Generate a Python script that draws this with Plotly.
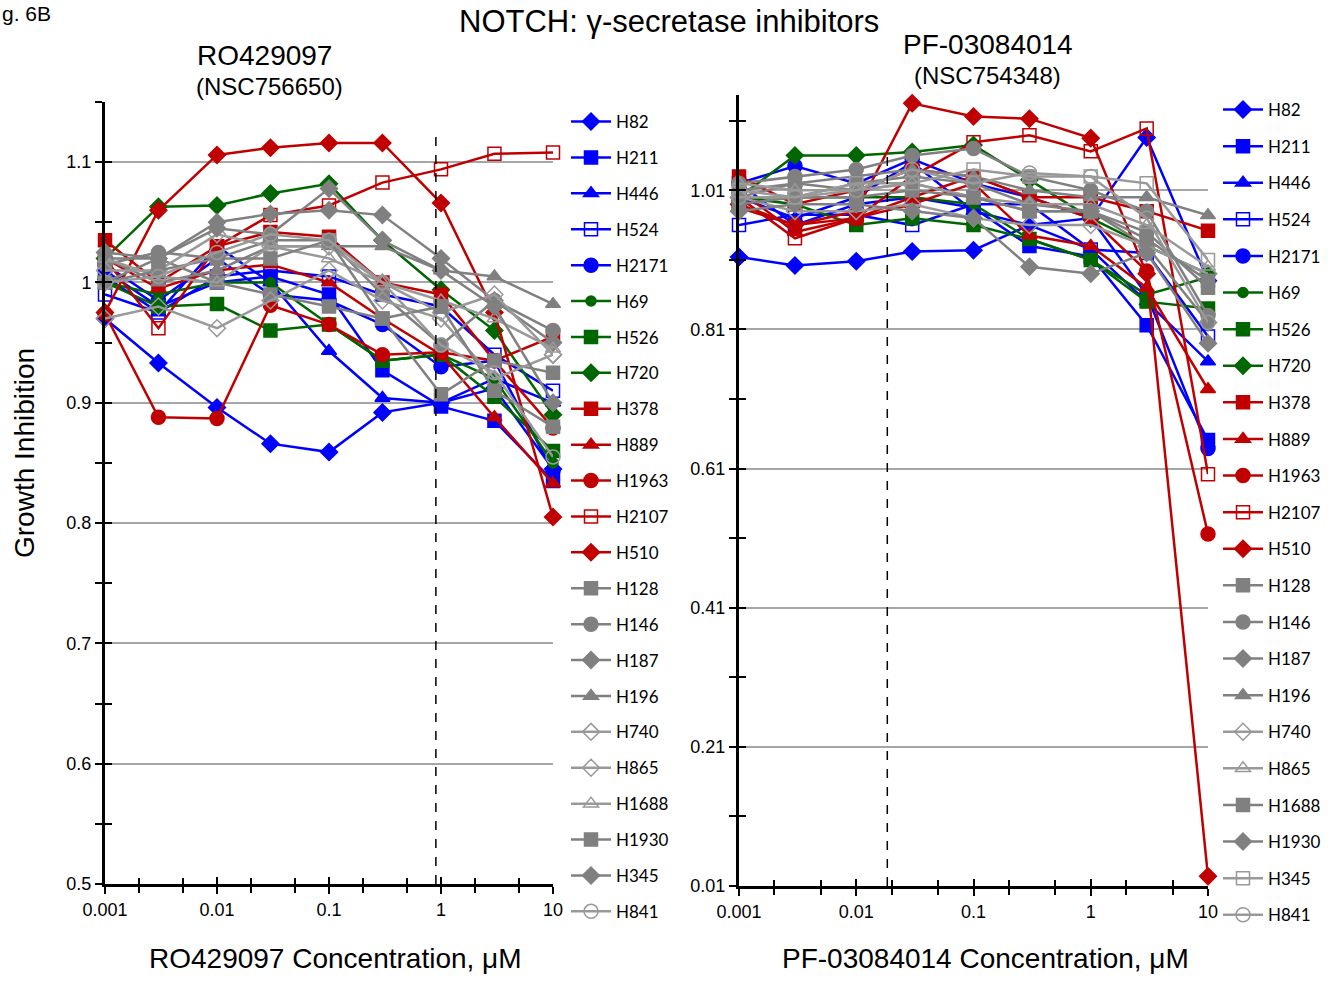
import plotly.graph_objects as go

# Drug concentrations (µM)
conc = [0.001, 0.003, 0.01, 0.03, 0.1, 0.3, 1, 3, 10]

cell_lines = ["H82", "H211", "H446", "H524", "H2171", "H69", "H526", "H720",
              "H378", "H889", "H1963", "H2107", "H510", "H128", "H146", "H187",
              "H196", "H740", "H865", "H1688", "H1930", "H345", "H841"]

# ---- RO429097 (NSC756650) growth inhibition ----
ro_h82 = [0.970, 0.933, 0.896, 0.866, 0.859, 0.892, 0.900, 0.912, 0.845]
ro_h211 = [1.010, 0.980, 1.000, 1.005, 0.990, 0.927, 0.897, 0.885, 0.835]
ro_h446 = [1.005, 0.975, 1.030, 1.000, 0.943, 0.904, 0.900, 0.920, 0.900]
ro_h524 = [0.990, 0.975, 1.005, 1.010, 1.005, 0.990, 0.980, 0.940, 0.910]
ro_h2171 = [1.015, 0.985, 1.020, 0.990, 0.985, 0.965, 0.930, 0.935, 0.843]
ro_h69 = [1.000, 0.990, 1.000, 1.000, 0.965, 0.935, 0.940, 0.920, 0.850]
ro_h526 = [1.000, 0.980, 0.982, 0.960, 0.965, 0.935, 0.940, 0.905, 0.860]
ro_h720 = [1.020, 1.063, 1.064, 1.074, 1.082, 1.035, 0.994, 0.960, 0.890]
ro_h378 = [1.035, 1.000, 1.030, 1.042, 1.038, 1.000, 0.990, 0.935, 0.955]
ro_h889 = [1.020, 0.995, 1.010, 1.015, 1.000, 0.970, 0.940, 0.888, 0.833]
ro_h1963 = [0.974, 0.888, 0.887, 0.981, 0.965, 0.940, 0.942, 0.935, 0.879]
ro_h2107 = [1.020, 0.962, 1.030, 1.056, 1.064, 1.083, 1.094, 1.107, 1.108]
ro_h510 = [0.975, 1.060, 1.106, 1.112, 1.116, 1.116, 1.066, 0.975, 0.805]
ro_h128 = [1.020, 1.020, 1.000, 0.990, 0.980, 0.970, 0.907, 0.935, 0.925]
ro_h146 = [1.015, 1.025, 1.020, 1.035, 1.035, 0.990, 0.948, 0.985, 0.960]
ro_h187 = [1.000, 1.020, 1.050, 1.057, 1.060, 1.056, 1.020, 0.985, 0.950]
ro_h196 = [1.020, 1.000, 1.010, 1.030, 1.030, 1.030, 1.010, 1.005, 0.982]
ro_h740 = [0.970, 0.980, 0.962, 0.985, 1.010, 0.985, 0.970, 0.920, 0.940]
ro_h865 = [1.010, 1.010, 1.040, 1.030, 1.030, 1.000, 0.975, 0.990, 0.940]
ro_h1688 = [1.020, 1.005, 1.000, 1.030, 1.020, 1.000, 0.985, 0.970, 0.945]
ro_h1930 = [1.000, 1.010, 1.020, 1.020, 1.035, 0.970, 0.980, 0.910, 0.880]
ro_h345 = [1.025, 1.020, 1.045, 1.040, 1.078, 1.035, 1.010, 0.980, 0.900]
ro_h841 = [1.000, 1.005, 1.025, 1.040, 1.035, 1.000, 0.948, 0.925, 0.855]

# ---- PF-03084014 (NSC754348) growth inhibition ----
pf_h82 = [0.914, 0.902, 0.908, 0.922, 0.924, 0.960, 0.970, 1.086, 0.880]
pf_h211 = [1.020, 0.960, 0.990, 1.000, 0.985, 0.930, 0.915, 0.816, 0.651]
pf_h446 = [1.000, 0.970, 1.000, 1.050, 0.980, 0.960, 0.925, 0.850, 0.764]
pf_h524 = [0.960, 0.975, 0.975, 0.960, 0.990, 0.990, 0.925, 0.920, 0.800]
pf_h2171 = [1.020, 1.045, 1.020, 1.055, 1.020, 1.000, 0.970, 0.860, 0.639]
pf_h69 = [1.000, 1.000, 1.000, 1.000, 0.990, 0.940, 0.910, 0.860, 0.885]
pf_h526 = [1.000, 0.990, 0.960, 0.970, 0.960, 0.940, 0.910, 0.850, 0.840]
pf_h720 = [1.000, 1.060, 1.060, 1.065, 1.075, 1.025, 0.970, 0.930, 0.890]
pf_h378 = [1.030, 0.990, 1.010, 1.040, 1.030, 1.000, 1.000, 0.980, 0.952]
pf_h889 = [1.010, 0.950, 0.970, 0.990, 1.020, 0.945, 0.930, 0.870, 0.724]
pf_h1963 = [0.985, 0.960, 0.970, 1.000, 1.030, 1.000, 0.970, 0.894, 0.516]
pf_h2107 = [1.000, 0.941, 0.970, 1.030, 1.079, 1.089, 1.066, 1.099, 0.602]
pf_h510 = [0.990, 0.960, 0.980, 1.135, 1.116, 1.113, 1.085, 0.890, 0.024]
pf_h128 = [1.000, 1.020, 1.010, 1.020, 1.000, 0.980, 0.980, 0.950, 0.870]
pf_h146 = [1.020, 1.030, 1.040, 1.060, 1.070, 1.030, 1.010, 0.980, 0.830]
pf_h187 = [1.000, 1.000, 1.020, 1.030, 1.020, 0.990, 0.980, 0.930, 0.820]
pf_h196 = [1.010, 1.020, 1.030, 1.040, 1.030, 1.010, 1.000, 1.000, 0.974]
pf_h740 = [1.000, 0.980, 0.980, 0.990, 0.970, 0.960, 0.960, 0.930, 0.890]
pf_h865 = [1.020, 1.010, 1.010, 1.020, 1.000, 0.990, 0.990, 0.960, 0.900]
pf_h1688 = [0.990, 1.000, 1.000, 1.010, 1.000, 0.980, 0.980, 0.940, 0.880]
pf_h1930 = [0.980, 0.990, 0.990, 0.980, 0.970, 0.900, 0.890, 0.920, 0.790]
pf_h345 = [1.010, 1.000, 1.020, 1.020, 1.040, 1.030, 1.030, 1.020, 0.910]
pf_h841 = [1.000, 1.000, 1.010, 1.040, 1.020, 1.035, 1.030, 0.970, 0.820]

ro_series = [ro_h82, ro_h211, ro_h446, ro_h524, ro_h2171, ro_h69, ro_h526, ro_h720,
             ro_h378, ro_h889, ro_h1963, ro_h2107, ro_h510, ro_h128, ro_h146, ro_h187,
             ro_h196, ro_h740, ro_h865, ro_h1688, ro_h1930, ro_h345, ro_h841]
pf_series = [pf_h82, pf_h211, pf_h446, pf_h524, pf_h2171, pf_h69, pf_h526, pf_h720,
             pf_h378, pf_h889, pf_h1963, pf_h2107, pf_h510, pf_h128, pf_h146, pf_h187,
             pf_h196, pf_h740, pf_h865, pf_h1688, pf_h1930, pf_h345, pf_h841]

# reference concentrations marked by dashed lines
ro_ref_conc = 0.9
pf_ref_conc = 0.0184

BLUE, GREEN, RED, GRAY, LGRAY = "#0000FF", "#006600", "#C00000", "#808080", "#999999"

colors = [BLUE] * 5 + [GREEN] * 3 + [RED] * 5 + [GRAY] * 10

ro_symbols = ["diamond", "square", "triangle-up", "square-open", "circle",
              "circle", "square", "diamond",
              "square", "triangle-up", "circle", "square-open", "diamond",
              "square", "circle", "diamond", "triangle-up", "diamond-open",
              "diamond-open", "triangle-up-open", "square", "diamond", "circle-open"]
pf_symbols = ro_symbols[:18] + ["triangle-up-open", "square", "diamond",
                                "square-open", "circle-open"]

sizes = {"diamond": 13, "square": 13, "triangle-up": 13, "square-open": 13,
         "circle": 14, "diamond-open": 13, "triangle-up-open": 13, "circle-open": 14}

fig = go.Figure()

FONT = "Liberation Sans, Arial, sans-serif"
LEGEND_FONT = "Lato, Carlito, sans-serif"


def add_panel(series, symbols, xa, ya, legend_name):
    for i, (name, vals) in enumerate(zip(cell_lines, series)):
        sym = symbols[i]
        col = colors[i]
        if sym.endswith("-open") and col == GRAY:
            col = LGRAY
        size = sizes[sym]
        if name == "H69":
            size = 10
        fig.add_trace(go.Scatter(
            x=conc, y=vals, name=name, mode="lines+markers",
            xaxis=xa, yaxis=ya, legend=legend_name,
            legendgroup=legend_name + name,
            line=dict(color=col, width=2.5),
            marker=dict(symbol=sym, size=size, color=col,
                        line=dict(color=col, width=1.5)),
            cliponaxis=False,
        ))


add_panel(ro_series, ro_symbols, "x", "y", "legend")
add_panel(pf_series, pf_symbols, "x2", "y2", "legend2")

# dashed reference lines
fig.add_trace(go.Scatter(x=[ro_ref_conc, ro_ref_conc], y=[0.5, 1.127], mode="lines",
                         xaxis="x", yaxis="y", showlegend=False, hoverinfo="skip",
                         line=dict(color="black", width=1.5, dash="dash")))
fig.add_trace(go.Scatter(x=[pf_ref_conc, pf_ref_conc], y=[0.01, 1.067], mode="lines",
                         xaxis="x2", yaxis="y2", showlegend=False, hoverinfo="skip",
                         line=dict(color="black", width=1.5, dash="dash")))

W, H = 1338, 981


def px(x):
    return x / W


def py(y):
    return 1 - y / H


left_x = [px(105), px(553)]
left_y = [py(884), py(102)]
right_x = [px(739), px(1208)]
right_y = [py(886), py(95)]

tickfont = dict(family=FONT, size=18, color="black")

xcommon = dict(type="log", range=[-3, 1], showline=True, linecolor="black", linewidth=3,
               ticks="outside", ticklen=7, tickwidth=2, tickcolor="black",
               tickvals=[0.001, 0.01, 0.1, 1, 10],
               ticktext=["0.001", "0.01", "0.1", "1", "10"],
               minor=dict(ticks="outside", ticklen=6, tickwidth=2, tickcolor="black",
                          dtick="D2", showgrid=False),
               showgrid=False, zeroline=False, tickfont=tickfont)
xinside = dict(type="log", range=[-3, 1], showline=False,
               ticks="inside", ticklen=7, tickwidth=2, tickcolor="black",
               tickvals=[0.001, 0.01, 0.1, 1, 10], showticklabels=False,
               minor=dict(ticks="inside", ticklen=6, tickwidth=2, tickcolor="black",
                          dtick="D2", showgrid=False),
               showgrid=False, zeroline=False)

ycommon_left = dict(range=[0.5, 1.15], showline=True, linecolor="black", linewidth=3,
                    tick0=0.5, dtick=0.1, ticks="outside", ticklen=7, tickwidth=2,
                    tickcolor="black",
                    minor=dict(ticks="outside", ticklen=7, tickwidth=2, tickcolor="black",
                               tick0=0.5, dtick=0.05, showgrid=False),
                    showgrid=True, gridcolor="#A6A6A6", gridwidth=1.5,
                    zeroline=False, tickfont=tickfont, tickformat="~g")
ycommon_right = dict(range=[0.01, 1.147], showline=True, linecolor="black", linewidth=3,
                     tick0=0.01, dtick=0.2, ticks="outside", ticklen=7, tickwidth=2,
                     tickcolor="black",
                     minor=dict(ticks="outside", ticklen=7, tickwidth=2, tickcolor="black",
                                tick0=0.01, dtick=0.1, showgrid=False),
                     showgrid=True, gridcolor="#A6A6A6", gridwidth=1.5,
                     zeroline=False, tickfont=tickfont, tickformat=".2f")

fig.update_layout(
    width=W, height=H,
    margin=dict(l=0, r=0, t=0, b=0, autoexpand=False),
    paper_bgcolor="white", plot_bgcolor="white",
    font=dict(family=FONT, color="black"),
    xaxis=dict(domain=left_x, anchor="y", **xcommon),
    yaxis=dict(domain=left_y, anchor="x", **ycommon_left),
    xaxis2=dict(domain=right_x, anchor="y2", **xcommon),
    yaxis2=dict(domain=right_y, anchor="x2", **ycommon_right),
    xaxis3=dict(overlaying="x", anchor="y", **xinside),
    yaxis3=dict(overlaying="y", anchor="x", range=[0.5, 1.15], tick0=0.5, dtick=0.05,
                ticks="inside", ticklen=7, tickwidth=2, tickcolor="black",
                showticklabels=False, showgrid=False, zeroline=False, showline=False),
    xaxis4=dict(overlaying="x2", anchor="y2", **xinside),
    yaxis4=dict(overlaying="y2", anchor="x2", range=[0.01, 1.147], tick0=0.01, dtick=0.1,
                ticks="inside", ticklen=7, tickwidth=2, tickcolor="black",
                showticklabels=False, showgrid=False, zeroline=False, showline=False),
    legend=dict(x=px(566), y=py(104), xanchor="left", yanchor="top",
                font=dict(family=LEGEND_FONT, size=17, color="black"),
                tracegroupgap=10.8, bgcolor="rgba(0,0,0,0)", itemwidth=40),
    legend2=dict(x=px(1218), y=py(92), xanchor="left", yanchor="top",
                 font=dict(family=LEGEND_FONT, size=17, color="black"),
                 tracegroupgap=11.5, bgcolor="rgba(0,0,0,0)", itemwidth=40),
    showlegend=True,
)

# invisible anchors so the overlay tick axes are drawn
fig.add_trace(go.Scatter(x=[0.001], y=[0.5], xaxis="x3", yaxis="y3", mode="markers",
                         marker=dict(opacity=0), showlegend=False, hoverinfo="skip"))
fig.add_trace(go.Scatter(x=[0.001], y=[0.01], xaxis="x4", yaxis="y4", mode="markers",
                         marker=dict(opacity=0), showlegend=False, hoverinfo="skip"))

annotations = [
    dict(text="g. 6B", x=px(0), y=py(0), xanchor="left", yanchor="top",
         font=dict(size=21)),
    dict(text="NOTCH: γ-secretase inhibitors", x=px(669), y=py(22),
         xanchor="center", yanchor="middle", font=dict(size=31)),
    dict(text="RO429097", x=px(264), y=py(55), xanchor="center", yanchor="middle",
         font=dict(size=28)),
    dict(text="(NSC756650)", x=px(269), y=py(87), xanchor="center", yanchor="middle",
         font=dict(size=24)),
    dict(text="PF-03084014", x=px(988), y=py(44), xanchor="center", yanchor="middle",
         font=dict(size=28)),
    dict(text="(NSC754348)", x=px(988), y=py(75), xanchor="center", yanchor="middle",
         font=dict(size=24)),
    dict(text="Growth Inhibition", x=px(24), y=py(453), xanchor="center",
         yanchor="middle", textangle=-90, font=dict(size=28)),
    dict(text="RO429097 Concentration, μM", x=px(335), y=py(958), xanchor="center",
         yanchor="middle", font=dict(size=28)),
    dict(text="PF-03084014 Concentration, μM", x=px(985), y=py(958), xanchor="center",
         yanchor="middle", font=dict(size=28)),
]
for a in annotations:
    a.update(xref="paper", yref="paper", showarrow=False)
    a["font"] = dict(family=FONT, color="black", **a["font"])
fig.update_layout(annotations=annotations)

fig.write_html("out.html")
